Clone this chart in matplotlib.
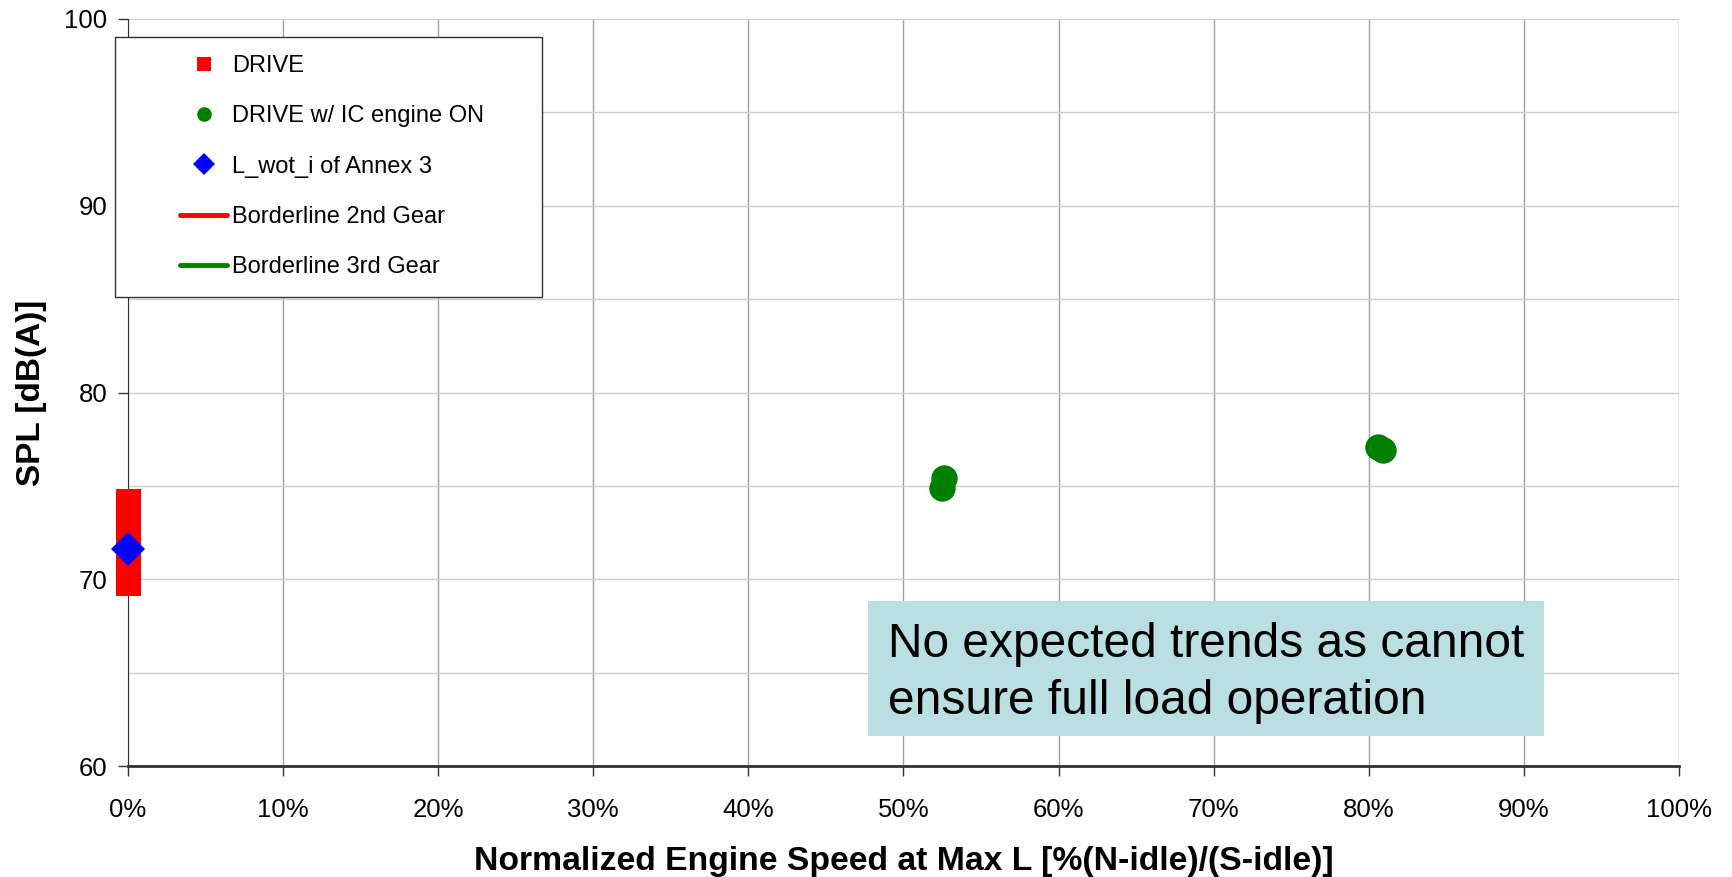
import matplotlib.pyplot as plt
from matplotlib.patches import Rectangle
from matplotlib.ticker import MultipleLocator, PercentFormatter

plt.rcParams["font.family"] = ["Liberation Sans", "DejaVu Sans"]

# DRIVE: 0% speed, stack of SPL values
drive_x = [0.0, 0.0, 0.0, 0.0, 0.0]
drive_y = [74.2, 72.9, 71.8, 70.9, 69.8]

# DRIVE w/ IC engine ON
ice_x = [52.6, 52.5, 80.6, 80.9]
ice_y = [75.4, 74.9, 77.1, 76.9]

# L_wot_i of Annex 3
lwot_x = [0.0]
lwot_y = [71.6]

# borderlines (no points drawn in this chart)
border2_x, border2_y = [], []
border3_x, border3_y = [], []

x_ticks = [0, 10, 20, 30, 40, 50, 60, 70, 80, 90, 100]
y_ticks = [60, 70, 80, 90, 100]

W, H = 1732, 877
fig = plt.figure(figsize=(W / 100, H / 100), dpi=100)
ax = fig.add_axes([128 / W, 1 - 766 / H, (1679 - 128) / W, (766 - 19) / H])

ax.set_xlim(0, 100)
ax.set_ylim(60, 100)
ax.set_xticks(x_ticks)
ax.set_yticks(y_ticks)
ax.yaxis.set_minor_locator(MultipleLocator(5))
ax.xaxis.set_major_formatter(PercentFormatter(decimals=0))

ax.grid(axis="x", which="major", color="#a0a0a0", linewidth=1.0)
ax.grid(axis="y", which="both", color="#cfcfcf", linewidth=1.0)
ax.set_axisbelow(True)
ax.tick_params(axis="y", which="minor", length=0)
ax.tick_params(axis="both", which="major", direction="out", length=7,
               width=1, labelsize=18.5, color="#333333")
ax.tick_params(axis="y", pad=8)
ax.tick_params(axis="x", pad=16)
for s in ["top", "right"]:
    ax.spines[s].set_visible(False)
ax.spines["left"].set_color("#333333")
ax.spines["bottom"].set_color("#333333")
ax.spines["bottom"].set_linewidth(2)

ax.plot(drive_x, drive_y, "s", color="#ff0000", markersize=18, markeredgewidth=0,
        label="DRIVE", clip_on=False, zorder=3)
ax.plot(ice_x, ice_y, "o", color="#008000", markersize=19, markeredgewidth=0,
        label="DRIVE w/ IC engine ON", clip_on=False, zorder=3)
ax.plot(lwot_x, lwot_y, "D", color="#0000ff", markersize=17.5, markeredgewidth=0,
        label="L_wot_i of Annex 3", clip_on=False, zorder=4)
ax.plot(border2_x, border2_y, "-", color="#ff0000", linewidth=3.5,
        solid_capstyle="round", label="Borderline 2nd Gear")
ax.plot(border3_x, border3_y, "-", color="#008000", linewidth=3.5,
        solid_capstyle="round", label="Borderline 3rd Gear")

ax.set_xlabel("Normalized Engine Speed at Max L [%(N-idle)/(S-idle)]",
              fontsize=24.3, fontweight="bold", labelpad=17)
ax.set_ylabel("SPL [dB(A)]", fontsize=24, fontweight="bold", labelpad=12)

# legend frame drawn separately, entries inside it
fig.patches.append(Rectangle((115 / W, 1 - 297 / H), (542 - 115) / W, (297 - 37) / H,
                             transform=fig.transFigure, facecolor="white",
                             edgecolor="#333333", linewidth=1.0, zorder=5))
leg = fig.legend(loc="upper left", bbox_to_anchor=(161 / W, 1 - 36 / H),
                 frameon=False, fontsize=17, handlelength=2.0,
                 handletextpad=0.2, labelspacing=1.2, borderpad=0.3)
leg.set_zorder(6)
for h, ms in zip(leg.legend_handles[:3], [10, 10.5, 11]):
    h.set_markersize(ms)

# annotation box
fig.patches.append(Rectangle((868 / W, 1 - 736 / H), (1544 - 868) / W, (736 - 601) / H,
                             transform=fig.transFigure, facecolor="#b9dfe2",
                             edgecolor="none", zorder=5))
fig.text(888 / W, 1 - 673 / H, "No expected trends as cannot\nensure full load operation",
         fontsize=34.5, va="center", ha="left", linespacing=1.35, zorder=6)

fig.savefig("out.png", dpi=100)
